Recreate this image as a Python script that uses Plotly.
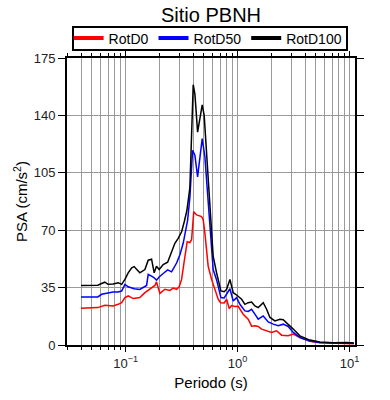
import plotly.graph_objects as go

# ---- data ----
period_d100 = [0.040, 0.048, 0.0565, 0.0611, 0.0653, 0.0697, 0.0774, 0.0859, 0.0922, 0.0987,
               0.1055, 0.1134, 0.1192, 0.134, 0.1488, 0.1592, 0.1706, 0.180, 0.1888, 0.1994,
               0.2167, 0.2374, 0.2574, 0.2754, 0.2947, 0.3162, 0.3336, 0.3526, 0.375, 0.4015,
               0.4157, 0.4394, 0.4606, 0.483, 0.503, 0.5105, 0.5287, 0.5657, 0.6054, 0.6494,
               0.7093, 0.759, 0.7976, 0.854, 0.9135, 0.9797, 1.086, 1.162, 1.243, 1.333,
               1.427, 1.527, 1.693, 1.815, 1.943, 2.153, 2.386, 2.554, 2.83, 3.139,
               3.598, 4.417, 5.424, 7.15, 9.41, 10.9]
psa_d100 = [36.3, 36.3, 36.5, 37.5, 38.3, 37.0, 37.2, 38.0, 37.0, 40.0,
            44.0, 47.0, 47.8, 44.0, 46.0, 51.7, 52.3, 44.0, 48.0, 46.0,
            49.0, 50.5, 57.0, 62.0, 65.0, 69.0, 75.0, 82.0, 96.0, 158.7,
            153.0, 129.8, 138.0, 146.4, 140.0, 132.8, 113.0, 82.4, 54.0, 44.0,
            33.0, 32.5, 34.0, 40.0, 31.9, 30.5, 27.9, 24.8, 25.8, 26.2,
            23.8, 22.8, 25.8, 21.8, 16.8, 14.7, 15.7, 15.4, 12.7, 9.7,
            5.6, 3.0, 1.8, 1.4, 1.6, 1.2]

period_d50 = [0.040, 0.048, 0.0565, 0.0611, 0.0653, 0.0697, 0.0774, 0.0859, 0.0922, 0.0987,
              0.1055, 0.1192, 0.134, 0.154, 0.1592, 0.1706, 0.180, 0.1888, 0.1994, 0.2167,
              0.2374, 0.2574, 0.2853, 0.3054, 0.3267, 0.3578, 0.375, 0.3965, 0.4157, 0.4394,
              0.483, 0.5105, 0.5287, 0.5463, 0.5657, 0.6054, 0.6494, 0.7093, 0.759, 0.7976,
              0.854, 0.9135, 0.9797, 1.048, 1.162, 1.243, 1.333, 1.427, 1.527, 1.693,
              1.876, 2.079, 2.304, 2.554, 2.83, 3.139, 3.598, 4.417, 5.424, 7.15,
              9.41, 10.9]
psa_d50 = [29.3, 29.3, 29.3, 30.9, 31.3, 31.3, 32.3, 32.3, 32.9, 37.0,
           35.5, 34.3, 33.9, 36.3, 43.0, 42.0, 41.0, 39.5, 41.5, 43.6,
           45.8, 44.6, 50.0, 55.0, 62.0, 76.0, 90.0, 118.7, 115.7, 102.5,
           125.8, 114.7, 100.5, 82.4, 68.0, 46.0, 39.7, 28.9, 28.7, 30.9,
           34.3, 26.8, 28.9, 24.8, 20.8, 20.5, 21.8, 18.8, 15.7, 17.7,
           14.1, 12.7, 11.7, 12.7, 11.3, 7.7, 4.6, 2.4, 1.5, 1.2,
           1.2, 1.0]

period_d0 = [0.040, 0.048, 0.0565, 0.0653, 0.0774, 0.0859, 0.0922, 0.0987, 0.1055, 0.117,
             0.134, 0.1488, 0.1648, 0.1827, 0.1888, 0.2024, 0.2243, 0.2486, 0.266, 0.2853,
             0.301, 0.3162, 0.3336, 0.3548, 0.375, 0.3884, 0.4061, 0.4157, 0.4305, 0.4771,
             0.4935, 0.5105, 0.5463, 0.5858, 0.627, 0.6711, 0.705, 0.759, 0.7976, 0.8414,
             0.884, 0.946, 1.012, 1.122, 1.243, 1.333, 1.427, 1.527, 1.638, 1.815,
             2.012, 2.228, 2.470, 2.83, 3.139, 3.598, 4.417, 5.424, 7.15, 9.41,
             10.9]
psa_d0 = [22.4, 22.6, 22.8, 24.2, 23.8, 24.8, 25.8, 28.9, 29.9, 28.3,
          28.9, 31.9, 34.0, 36.3, 38.5, 31.5, 34.0, 33.3, 34.7, 33.9,
          35.5, 40.0, 51.0, 63.0, 62.5, 64.2, 81.3, 80.5, 79.3, 78.3,
          76.3, 68.2, 48.0, 40.0, 34.0, 27.9, 25.8, 25.6, 27.9, 22.3,
          24.0, 23.5, 23.6, 18.8, 15.7, 11.5, 11.8, 11.3, 9.7, 8.7,
          7.7, 8.7, 6.0, 5.6, 6.7, 4.5, 2.2, 1.4, 1.0, 1.0,
          0.8]

series_names = ["RotD0", "RotD50", "RotD100"]
series_colors = ["#ff0000", "#0000ff", "#000000"]

y_ticks = [0, 35, 70, 105, 140, 175]
x_ticks = [0.1, 1, 10]
x_tick_text = ["10<sup>\u22121</sup>", "10<sup>0</sup>", "10<sup>1</sup>"]
x_minor = [m * d for d in (0.01, 0.1, 1) for m in range(2, 10)]

title_text = "Sitio PBNH"
x_title = "Periodo (s)"
y_title = "PSA (cm/s<sup>2</sup>)"

FONT = "Liberation Sans, Arial, Helvetica, sans-serif"

fig = go.Figure()
data = [(period_d0, psa_d0), (period_d50, psa_d50), (period_d100, psa_d100)]
for (px, py), name, col in zip(data, series_names, series_colors):
    fig.add_trace(go.Scatter(x=px, y=py, mode="lines", name=name,
                             line=dict(color=col, width=1.5), showlegend=False))
# legend entries with thicker sample lines
for name, col in zip(series_names, series_colors):
    fig.add_trace(go.Scatter(x=[None], y=[None], mode="lines", name=name,
                             line=dict(color=col, width=4), showlegend=True))

# plot area in px: left 67, right 355, top 58, bottom 345
PW, PH = 288.0, 287.0

fig.update_layout(
    width=390, height=400,
    margin=dict(l=67, r=35, t=58, b=55),
    paper_bgcolor="white", plot_bgcolor="white",
    font=dict(family=FONT, size=13, color="#222"),
    title=dict(text=title_text, x=0.5, xref="paper", xanchor="center",
               y=1 - 14.5 / 400, yanchor="middle", yref="container",
               font=dict(size=20, color="black")),
    legend=dict(orientation="h", x=0.49, xanchor="center",
                y=1 + (58 - 38.5) / PH, yanchor="middle",
                borderwidth=0, bgcolor="rgba(0,0,0,0)",
                font=dict(size=14, color="black"), itemwidth=30,
                tracegroupgap=0),
    showlegend=True,
    shapes=[dict(type="rect", xref="paper", yref="paper", layer="below",
                 x0=(73 - 67) / PW, x1=(347 - 67) / PW,
                 y0=1 + (58 - 50) / PH, y1=1 + (58 - 27) / PH,
                 line=dict(color="black", width=2), fillcolor="white")],
)

fig.update_xaxes(
    type="log", range=[-1.523, 1.048], automargin=False,
    tickmode="array", tickvals=x_ticks, ticktext=x_tick_text,
    ticks="outside", ticklen=5, tickcolor="black", tickwidth=1,
    showline=True, linecolor="black", linewidth=2, mirror="ticks",
    showgrid=True, gridcolor="#9a9a9a", gridwidth=1,
    minor=dict(tickmode="array", tickvals=x_minor, ticks="outside", ticklen=3,
               tickcolor="black", showgrid=True, gridcolor="#9a9a9a", gridwidth=1),
    tickfont=dict(size=13, color="#222"),
    title=dict(text=x_title, font=dict(size=15, color="black"), standoff=8),
    zeroline=False,
)
fig.update_yaxes(
    range=[0, 175], tickmode="array", tickvals=y_ticks, automargin=False,
    ticks="outside", ticklen=7, tickcolor="black", tickwidth=1,
    showline=True, linecolor="black", linewidth=2, mirror="ticks",
    showgrid=True, gridcolor="#9a9a9a", gridwidth=1,
    tickfont=dict(size=13, color="#222"),
    title=dict(text=y_title, font=dict(size=15, color="black"), standoff=2),
    zeroline=False,
)

fig.write_html("out.html", config={"displayModeBar": False},
               post_script="document.body.style.margin='0';document.body.style.padding='0';")
